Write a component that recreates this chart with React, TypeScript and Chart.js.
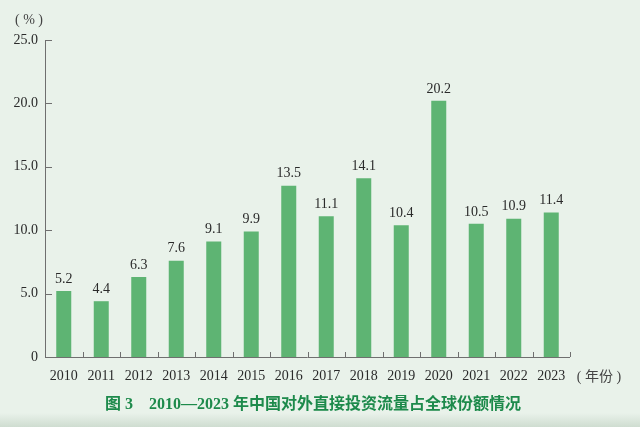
import React, { useEffect, useRef } from "react";
import { Chart, registerables } from "chart.js";

Chart.register(...registerables);

const years = ["2010", "2011", "2012", "2013", "2014", "2015", "2016", "2017", "2018", "2019", "2020", "2021", "2022", "2023"];
const shares = [5.2, 4.4, 6.3, 7.6, 9.1, 9.9, 13.5, 11.1, 14.1, 10.4, 20.2, 10.5, 10.9, 11.4];
const yTicks = [0, 5, 10, 15, 20, 25];
const titleText = "图 3    2010—2023 年中国对外直接投资流量占全球份额情况";
const yUnit = "( % )";
const xUnit = "( 年份 )";

const BG = "#e9f2ea";
const BAR = "#5eb473";
const TEXT = "#2a2a2a";
const AXIS = "#6f6f6f";
const TITLE = "#1d8a4b";
const SERIF = "'Liberation Serif', 'DejaVu Serif', 'Noto Sans CJK SC', serif";

const decor = {
  id: "decor",
  beforeDraw(chart: any) {
    const { ctx, width, height } = chart;
    ctx.save();
    ctx.fillStyle = BG;
    ctx.fillRect(0, 0, width, height);
    const g = ctx.createLinearGradient(0, height - 14, 0, height);
    g.addColorStop(0, "rgba(200,215,202,0)");
    g.addColorStop(1, "rgba(200,215,202,0.8)");
    ctx.fillStyle = g;
    ctx.fillRect(0, height - 14, width, 14);
    ctx.restore();
  },
  afterDraw(chart: any) {
    const { ctx, chartArea } = chart;
    const x = chart.scales.x;
    const y = chart.scales.y;
    ctx.save();
    ctx.strokeStyle = AXIS;
    ctx.lineWidth = 1;
    const lx = Math.round(chartArea.left) + 0.5;
    ctx.beginPath();
    ctx.moveTo(lx, y.getPixelForValue(25));
    ctx.lineTo(lx, chartArea.bottom);
    ctx.stroke();
    const by = Math.round(chartArea.bottom) + 0.5;
    ctx.beginPath();
    ctx.moveTo(chartArea.left, by);
    ctx.lineTo(chartArea.right, by);
    ctx.stroke();
    yTicks.forEach((v) => {
      if (v === 0) return;
      const py = Math.round(y.getPixelForValue(v)) + 0.5;
      ctx.beginPath();
      ctx.moveTo(chartArea.left, py);
      ctx.lineTo(chartArea.left + 7, py);
      ctx.stroke();
    });
    const step = (chartArea.right - chartArea.left) / years.length;
    for (let i = 0; i < years.length; i++) {
      const bx = Math.round(x.getPixelForTick(i) + step / 2) + 0.5;
      ctx.beginPath();
      ctx.moveTo(bx, chartArea.bottom);
      ctx.lineTo(bx, chartArea.bottom - 5);
      ctx.stroke();
    }
    ctx.fillStyle = TEXT;
    ctx.font = "14px " + SERIF;
    ctx.textAlign = "center";
    ctx.textBaseline = "bottom";
    const meta = chart.getDatasetMeta(0);
    meta.data.forEach((bar: any, i: number) => {
      ctx.fillText(shares[i].toFixed(1), bar.x, bar.y - 5);
    });
    ctx.textBaseline = "middle";
    ctx.font = "14px " + SERIF;
    ctx.fillStyle = "#444";
    ctx.fillText(yUnit, 29, 20);
    ctx.fillText(xUnit, 599, 377);
    ctx.fillStyle = TITLE;
    ctx.font = "bold 16px " + SERIF;
    ctx.fillText(titleText, 313, 405);
    ctx.restore();
  },
};

export default function App() {
  const ref = useRef<HTMLCanvasElement>(null);
  useEffect(() => {
    const c = ref.current;
    if (!c) return;
    const chart = new Chart(c, {
      type: "bar",
      data: {
        labels: years,
        datasets: [
          {
            data: shares,
            backgroundColor: BAR,
            borderWidth: 0,
            barPercentage: 0.4,
            categoryPercentage: 1,
          },
        ],
      },
      options: {
        animation: false,
        responsive: false,
        maintainAspectRatio: false,
        layout: { padding: { left: 0, right: 70, top: 40, bottom: 31 } },
        plugins: {
          legend: { display: false },
          tooltip: { enabled: false },
          title: { display: false },
        },
        scales: {
          x: {
            grid: { display: false, drawTicks: false },
            border: { display: false },
            ticks: { color: TEXT, font: { family: SERIF, size: 14 }, padding: 11, maxRotation: 0, autoSkip: false },
            afterFit(s: any) {
              s.height = 39;
            },
          },
          y: {
            min: 0,
            max: 25,
            afterBuildTicks(s: any) {
              s.ticks = yTicks.map((v) => ({ value: v }));
            },
            grid: { display: false, drawTicks: false },
            border: { display: false },
            ticks: {
              color: TEXT,
              font: { family: SERIF, size: 14 },
              padding: 7,
              callback: (v: any) => (Number(v) === 0 ? "0" : Number(v).toFixed(1)),
            },
            afterFit(s: any) {
              s.width = 45;
            },
          },
        },
      },
      plugins: [decor],
    });
    return () => chart.destroy();
  }, []);
  return (
    <div style={{ position: "absolute", left: 0, top: 0, width: 640, height: 427 }}>
      <canvas ref={ref} width={640} height={427} style={{ display: "block" }} />
    </div>
  );
}
